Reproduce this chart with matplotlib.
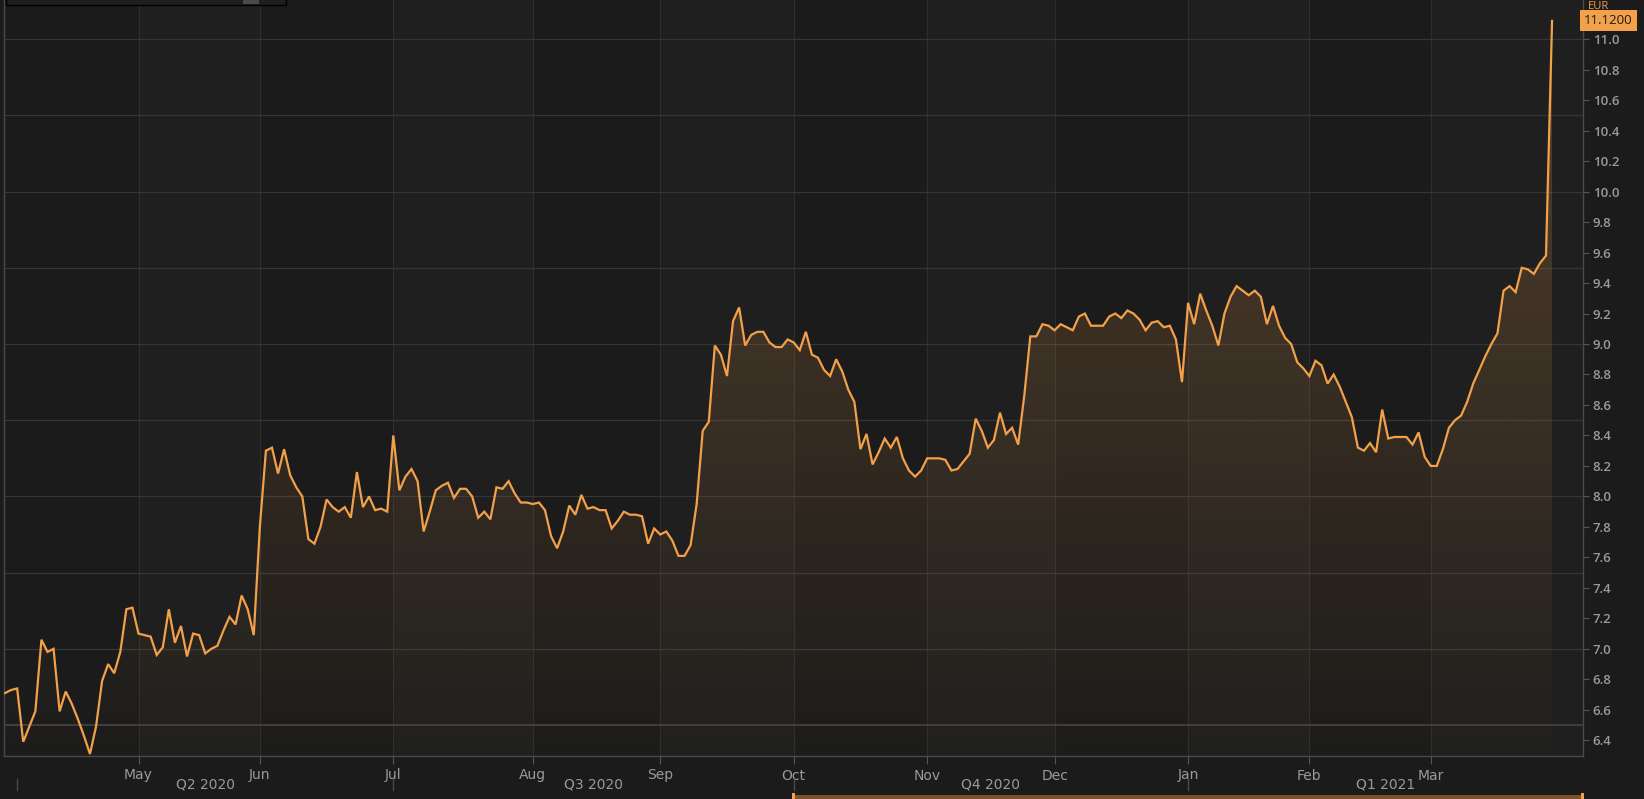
import matplotlib
matplotlib.use("Agg")
import matplotlib.pyplot as plt
import numpy as np
from matplotlib.patches import Rectangle, Polygon
from matplotlib.transforms import blended_transform_factory

# daily closes (trading days)
apr_2020 = [6.71, 6.73, 6.74, 6.39, 6.49, 6.59, 7.06, 6.98, 7.00, 6.59, 6.72,
            6.64, 6.54, 6.43, 6.31, 6.49, 6.79, 6.90, 6.84, 6.98, 7.26, 7.27]
may_2020 = [7.10, 7.09, 7.08, 6.96, 7.01, 7.26, 7.04, 7.15, 6.95, 7.10,
            7.09, 6.97, 7.00, 7.02, 7.12, 7.21, 7.16, 7.35, 7.26, 7.09]
jun_2020 = [7.80, 8.30, 8.32, 8.15, 8.31, 8.14, 8.06, 8.00, 7.72, 7.69, 7.80,
            7.98, 7.93, 7.90, 7.93, 7.86, 8.16, 7.93, 8.00, 7.91, 7.92, 7.90]
jul_2020 = [8.40, 8.04, 8.13, 8.18, 8.10, 7.77, 7.90, 8.04, 8.07, 8.09, 7.99, 8.05,
            8.05, 8.00, 7.86, 7.90, 7.85, 8.06, 8.05, 8.10, 8.02, 7.96, 7.96]
aug_2020 = [7.95, 7.96, 7.91, 7.74, 7.66, 7.77, 7.94, 7.88, 8.01, 7.92, 7.93,
            7.91, 7.91, 7.79, 7.84, 7.90, 7.88, 7.88, 7.87, 7.69, 7.79]
sep_2020 = [7.75, 7.77, 7.71, 7.61, 7.61, 7.68, 7.95, 8.43, 8.49, 8.99, 8.93,
            8.79, 9.15, 9.24, 8.99, 9.06, 9.08, 9.08, 9.01, 8.98, 8.98, 9.03]
oct_2020 = [9.01, 8.96, 9.08, 8.93, 8.91, 8.83, 8.79, 8.90, 8.82, 8.70, 8.62,
            8.31, 8.41, 8.21, 8.29, 8.38, 8.32, 8.39, 8.25, 8.17, 8.13, 8.17]
nov_2020 = [8.25, 8.25, 8.25, 8.24, 8.17, 8.18, 8.23, 8.28, 8.51, 8.43, 8.32,
            8.37, 8.55, 8.41, 8.45, 8.34, 8.66, 9.05, 9.05, 9.13, 9.12]
dec_2020 = [9.09, 9.13, 9.11, 9.09, 9.18, 9.20, 9.12, 9.12, 9.12, 9.18, 9.20,
            9.17, 9.22, 9.20, 9.16, 9.09, 9.14, 9.15, 9.11, 9.12, 9.03, 8.75]
jan_2021 = [9.27, 9.13, 9.33, 9.22, 9.12, 8.99, 9.20, 9.31, 9.38, 9.35,
            9.32, 9.35, 9.31, 9.13, 9.25, 9.12, 9.04, 9.00, 8.88, 8.84]
feb_2021 = [8.79, 8.89, 8.86, 8.74, 8.80, 8.72, 8.62, 8.52, 8.32, 8.30,
            8.35, 8.29, 8.57, 8.38, 8.39, 8.39, 8.39, 8.34, 8.42, 8.26]
mar_2021 = [8.20, 8.20, 8.31, 8.45, 8.50, 8.53, 8.62, 8.74, 8.83, 8.92, 9.00,
            9.07, 9.35, 9.38, 9.34, 9.50, 9.49, 9.46, 9.53, 9.58, 11.12]

values = (apr_2020 + may_2020 + jun_2020 + jul_2020 + aug_2020 + sep_2020 +
          oct_2020 + nov_2020 + dec_2020 + jan_2021 + feb_2021 + mar_2021)

month_labels = ["May", "Jun", "Jul", "Aug", "Sep", "Oct", "Nov", "Dec", "Jan", "Feb", "Mar"]
month_pos = [22, 42, 64, 87, 108, 130, 152, 173, 195, 215, 235]
quarter_labels = ["Q2 2020", "Q3 2020", "Q4 2020", "Q1 2021"]
quarter_pos = [2, 64, 130, 195]
last_label = "11.1200"

BG = "#1b1b1b"
BAND = "#1f1f1f"
ORANGE = "#f2a04a"
GRID = "#363636"
TXT = "#9a9a9a"
narrow = ["Liberation Sans Narrow", "DejaVu Sans"]
sans = ["Open Sans", "DejaVu Sans"]

fig = plt.figure(figsize=(16.44, 7.99), dpi=100, facecolor=BG)
W, H = 1644, 799
ax = fig.add_axes([4 / W, 43 / H, 1579 / W, 756 / H])
ax.set_facecolor(BG)

x = np.arange(len(values))
y = np.array(values)
xlo, xhi = -0.17, 260.1
ylo, yhi = 6.297, 11.257

# alternating month bands
edges = [xlo] + month_pos + [xhi]
for i in range(len(edges) - 1):
    if i % 2 == 1:
        ax.axvspan(edges[i], edges[i + 1], color=BAND, lw=0, zorder=0)

for p in month_pos:
    ax.axvline(p, color="#2e2e2e", lw=0.8, zorder=0.5)
for v in np.arange(6.5, 11.01, 0.5):
    ax.axhline(v, color="#444444" if v == 6.5 else GRID, lw=1.2 if v == 6.5 else 0.9, zorder=0.5)

# gradient fill under the line
verts = [(x[0], ylo)] + list(zip(x, y)) + [(x[-1], ylo)]
poly = Polygon(verts, closed=True, fc="none", ec="none")
ax.add_patch(poly)
grad = np.zeros((256, 1, 4))
grad[..., :3] = matplotlib.colors.to_rgb(ORANGE)
grad[:, 0, 3] = np.linspace(0.26, 0.01, 256)
im = ax.imshow(grad, extent=[x[0], x[-1], ylo, yhi], aspect="auto",
               origin="upper", interpolation="bilinear", zorder=1)
im.set_clip_path(poly)

ax.plot(x, y, color=ORANGE, lw=1.6, zorder=3, solid_joinstyle="miter")

ax.set_xlim(xlo, xhi)
ax.set_ylim(ylo, yhi)

for s in ["left", "bottom", "right"]:
    ax.spines[s].set_color("#4a4a4a")
    ax.spines[s].set_linewidth(1)
ax.spines["top"].set_visible(False)

ax.yaxis.tick_right()
ax.set_yticks(np.round(np.arange(6.4, 11.01, 0.2), 1))
ax.set_yticklabels([f"{v:.1f}" for v in np.arange(6.4, 11.01, 0.2)])
ax.tick_params(axis="y", length=4, color="#555555", labelcolor=TXT,
               labelsize=9.5, pad=3)
for t in ax.get_yticklabels():
    t.set_fontfamily(sans)
    t.set_fontweight("semibold")

ax.set_xticks(month_pos)
ax.set_xticklabels(month_labels)
ax.tick_params(axis="x", length=6, color="#555555", labelcolor=TXT,
               labelsize=10, pad=3)
for t in ax.get_xticklabels():
    t.set_fontfamily(narrow)

tr = blended_transform_factory(ax.transData, ax.transAxes)
q_edges = quarter_pos + [xhi]
for i, lab in enumerate(quarter_labels):
    cx = (q_edges[i] + q_edges[i + 1]) / 2
    ax.text(cx, -29 / 756, lab, transform=tr, ha="center", va="center",
            color=TXT, fontsize=10, family=narrow)
for p in quarter_pos:
    ax.plot([p, p], [-23 / 756, -34 / 756], transform=tr, color="#4a4a4a",
            lw=1, clip_on=False)

# last value label
ax.text(1.0008, y[-1], last_label, transform=ax.get_yaxis_transform(),
        ha="left", va="center", color="#1b1b1b", fontsize=9.5, family=sans,
        bbox=dict(boxstyle="square,pad=0.3", fc=ORANGE, ec="none"))
fig.text(1588 / W, 1 - 1 / H, "EUR", color=ORANGE, fontsize=8,
         ha="left", va="top", family=sans)

# cut-off toolbar box at top left
fig.add_artist(Rectangle((6 / W, 1 - 5 / H), 280 / W, 12 / H, transform=fig.transFigure,
                         fc="#1e1e1e", ec="#000000", lw=1))
fig.add_artist(Rectangle((243 / W, 1 - 4 / H), 16 / W, 6 / H, transform=fig.transFigure,
                         fc="#4a4a4a", ec="none"))

# navigator range bar at bottom
fig.add_artist(Rectangle((794 / W, 0), 789 / W, 4 / H, transform=fig.transFigure,
                         fc="#7a5129", ec="none"))
for bx in (792, 1581):
    fig.add_artist(Rectangle((bx / W, 0), 3 / W, 6 / H, transform=fig.transFigure,
                             fc=ORANGE, ec="none"))

fig.savefig("out.png", dpi=100, facecolor=BG)
